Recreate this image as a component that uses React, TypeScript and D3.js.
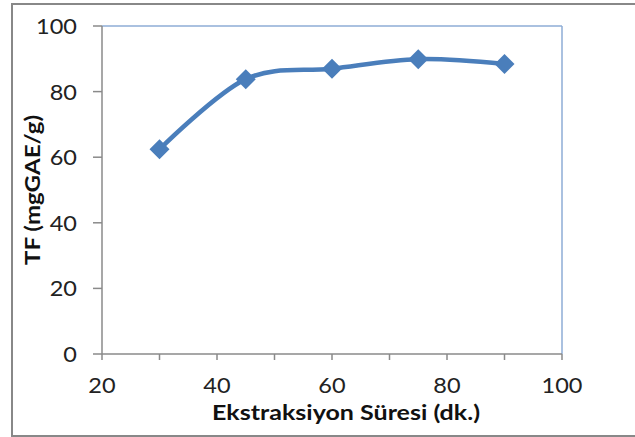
import React from "react";
import * as d3 from "d3";

// Extraction time (min) and total flavonoid content (mg GAE/g)
const minutes: number[] = [30, 45, 60, 75, 90];
const tfValues: number[] = [62.4, 83.8, 87.0, 89.9, 88.4];
const xTickLabels: number[] = [20, 40, 60, 80, 100];
const xMinorTicks: number[] = [20, 30, 40, 50, 60, 70, 80, 90, 100];
const yTickLabels: number[] = [0, 20, 40, 60, 80, 100];

const W = 635;
const H = 437;
const plot = { left: 102, top: 26, right: 562, bottom: 354 };

const FONT = "Lato, 'Open Sans', 'Liberation Sans', sans-serif";
const BLUE = "#4A7EBB";

export default function App() {
  const x = d3.scaleLinear().domain([20, 100]).range([plot.left, plot.right]);
  const y = d3.scaleLinear().domain([0, 100]).range([plot.bottom, plot.top]);

  const points = minutes.map((m, i) => [x(m), y(tfValues[i])] as [number, number]);
  const line = d3.line().curve(d3.curveCardinal.tension(0))(points) || "";

  const diamond = (cx: number, cy: number, r: number) =>
    `M${cx},${cy - r}L${cx + r},${cy}L${cx},${cy + r}L${cx - r},${cy}Z`;

  // tick labels are slightly widened horizontally
  const stretch = 1.12;

  return (
    <svg
      width={W}
      height={H}
      style={{ position: "absolute", left: 0, top: 0, background: "#fff" }}
      fontFamily={FONT}
    >
      {/* chart frame */}
      <rect x={12} y={4} width={W + 10} height={432} fill="#fff" stroke="#888" strokeWidth={2} />

      {/* plot area border (top and right) */}
      <line x1={plot.left} x2={plot.right} y1={plot.top} y2={plot.top} stroke="#8EACD6" strokeWidth={1.5} />
      <line x1={plot.right} x2={plot.right} y1={plot.top} y2={plot.bottom} stroke="#8EACD6" strokeWidth={1.5} />

      {/* axes */}
      <line x1={plot.left} x2={plot.left} y1={plot.top} y2={plot.bottom} stroke="#8A8A8A" strokeWidth={1.5} />
      <line x1={plot.left} x2={plot.right} y1={plot.bottom} y2={plot.bottom} stroke="#8A8A8A" strokeWidth={1.5} />

      {yTickLabels.map((v) => (
        <g key={`y${v}`}>
          <line x1={plot.left - 9} x2={plot.left} y1={y(v)} y2={y(v)} stroke="#8A8A8A" strokeWidth={1.5} />
          <text
            transform={`translate(77,${y(v)}) scale(${stretch},1)`}
            textAnchor="end"
            dominantBaseline="central"
            fontSize={21}
            fill="#222"
          >
            {v}
          </text>
        </g>
      ))}

      {xMinorTicks.map((v) => (
        <line
          key={`xt${v}`}
          x1={x(v)}
          x2={x(v)}
          y1={plot.bottom}
          y2={plot.bottom + 6}
          stroke="#8A8A8A"
          strokeWidth={1.5}
        />
      ))}
      {xTickLabels.map((v) => (
        <text
          key={`x${v}`}
          transform={`translate(${x(v)},385) scale(${stretch},1)`}
          textAnchor="middle"
          dominantBaseline="central"
          fontSize={21}
          fill="#222"
        >
          {v}
        </text>
      ))}

      {/* axis titles */}
      <text
        x={346}
        y={420}
        textAnchor="middle"
        fontSize={21}
        fontWeight="bold"
        fill="#111"
        textLength={268}
        lengthAdjust="spacingAndGlyphs"
      >
        Ekstraksiyon Süresi (dk.)
      </text>
      <text
        transform="translate(40,190) rotate(-90)"
        textAnchor="middle"
        fontSize={21}
        fontWeight="bold"
        fill="#111"
        textLength={150}
        lengthAdjust="spacingAndGlyphs"
      >
        TF (mgGAE/g)
      </text>

      {/* series */}
      <path d={line} fill="none" stroke={BLUE} strokeWidth={4.5} strokeLinejoin="round" />
      {points.map(([px, py], i) => (
        <path key={`m${i}`} d={diamond(px, py, 10)} fill={BLUE} />
      ))}
    </svg>
  );
}
